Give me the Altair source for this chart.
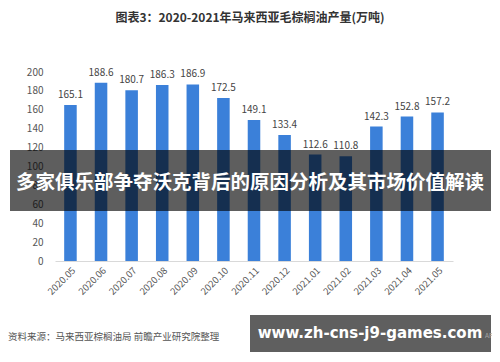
import altair as alt
import pandas as pd

months = ["2020.05", "2020.06", "2020.07", "2020.08", "2020.09", "2020.10", "2020.11",
          "2020.12", "2021.01", "2021.02", "2021.03", "2021.04", "2021.05"]
values = [165.1, 188.6, 180.7, 186.3, 186.9, 172.5, 149.1, 133.4, 112.6, 110.8, 142.3, 152.8, 157.2]
y_ticks = [0, 20, 40, 60, 80, 100, 120, 140, 160, 180, 200]

title_text = "图表3：2020-2021年马来西亚毛棕榈油产量(万吨)"
banner_text = "多家俱乐部争夺沃克背后的原因分析及其市场价值解读"
source_text = "资料来源：马来西亚棕榈油局 前瞻产业研究院整理"
url_text = "www.zh-cns-j9-games.com"

CJK = "Noto Sans CJK SC"
df = pd.DataFrame({"month": months, "value": values})
one = pd.DataFrame({"k": [0]})

x = alt.X("month:N", sort=months, title=None,
          scale=alt.Scale(paddingInner=0.59, paddingOuter=0.3),
          axis=alt.Axis(labelAngle=-45, labelFontSize=9.5, labelColor="#555555",
                        labelFont=CJK, ticks=False, domainColor="#d9d9d9",
                        labelPadding=4))
y = alt.Y("value:Q", title=None,
          scale=alt.Scale(domain=[0, 200], nice=False),
          axis=alt.Axis(values=y_ticks, grid=False, domain=False, ticks=False,
                        labelFontSize=10, labelColor="#555555", labelFont=CJK,
                        labelPadding=12))

base = alt.Chart(df)
bars = base.mark_bar(color="#3b80d9").encode(x=x, y=y)
labels = base.mark_text(baseline="bottom", dy=-5, fontSize=10, color="#444444",
                        font=CJK).encode(x=x, y=y, text=alt.Text("value:Q", format=".1f"))

deco = alt.Chart(one)
title = deco.mark_text(text=title_text, font=CJK, fontSize=12, fontWeight="bold",
                       color="#333333", align="center", baseline="middle").encode(
    x=alt.value(195), y=alt.value(-54))
banner = deco.mark_rect(color="#000000", opacity=0.63).encode(
    x=alt.value(-45), x2=alt.value(436), y=alt.value(78), y2=alt.value(139))
banner_t = deco.mark_text(text=banner_text, font=CJK, fontSize=19.5, fontWeight="bold",
                          color="#ffffff", align="center", baseline="middle").encode(
    x=alt.value(195), y=alt.value(111))
source = deco.mark_text(text=source_text, font=CJK, fontSize=9.5, color="#555555",
                        align="left", baseline="middle").encode(
    x=alt.value(-47), y=alt.value(265))
box = deco.mark_rect(color="#5f5f5f").encode(
    x=alt.value(195), x2=alt.value(436), y=alt.value(243), y2=alt.value(280))
app = deco.mark_text(text="APP", font=CJK, fontSize=6.5, color="#aaaaaa",
                     align="left", baseline="middle").encode(
    x=alt.value(430), y=alt.value(264))
url = deco.mark_text(text=url_text, font="DejaVu Sans", fontSize=15, fontWeight="bold",
                     color="#ffffff", align="center", baseline="middle").encode(
    x=alt.value(315), y=alt.value(261))

chart = alt.layer(bars, labels, title, banner, banner_t, source, box, app, url).properties(
    width=398, height=189,
    autosize=alt.AutoSizeParams(type="none"),
    padding={"left": 47, "top": 64, "right": 39, "bottom": 93},
    background="#ffffff",
).configure_view(stroke=None)

chart.save("out.html", embed_options={"renderer": "svg", "actions": False})
